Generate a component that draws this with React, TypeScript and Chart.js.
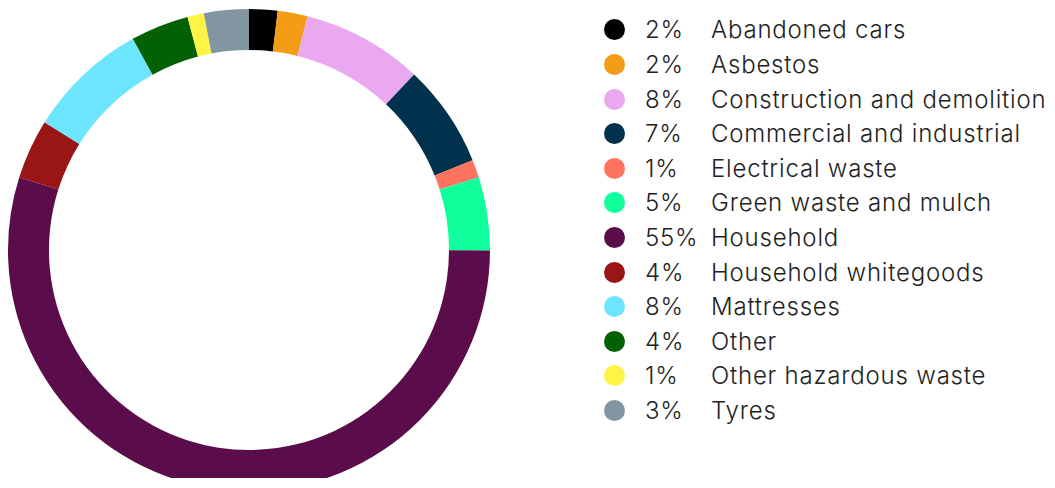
import React, { useEffect, useRef } from "react";
import { Chart, registerables } from "chart.js";

Chart.register(...registerables);

const categories = [
  "Abandoned cars",
  "Asbestos",
  "Construction and demolition",
  "Commercial and industrial",
  "Electrical waste",
  "Green waste and mulch",
  "Household",
  "Household whitegoods",
  "Mattresses",
  "Other",
  "Other hazardous waste",
  "Tyres",
];

const values = [1.9, 2.0, 8.1, 6.9, 1.2, 4.9, 54.8, 4.0, 8.1, 3.9, 1.1, 3.0];

const percentLabels = ["2%", "2%", "8%", "7%", "1%", "5%", "55%", "4%", "8%", "4%", "1%", "3%"];

const colors = [
  "#000000",
  "#f39c16",
  "#e9a8f0",
  "#00324e",
  "#ff7361",
  "#0eff9b",
  "#5b0c4a",
  "#9a1515",
  "#6ee5ff",
  "#046103",
  "#fff345",
  "#8296a2",
];

export default function App() {
  const canvasRef = useRef<HTMLCanvasElement | null>(null);

  useEffect(() => {
    document.documentElement.style.overflow = "hidden";
    document.body.style.overflow = "hidden";
    if (!canvasRef.current) return;
    const chart = new Chart(canvasRef.current, {
      type: "doughnut",
      data: {
        labels: categories,
        datasets: [
          {
            data: values,
            backgroundColor: colors,
            borderWidth: 0,
          },
        ],
      },
      options: {
        animation: false,
        responsive: true,
        maintainAspectRatio: false,
        cutout: "83%",
        plugins: {
          legend: { display: false },
          tooltip: { enabled: false },
        },
      },
    });
    return () => chart.destroy();
  }, []);

  return (
    <div style={{ position: "relative", width: 1039, height: 470 }}>
      <div style={{ position: "absolute", left: 0, top: 0, width: 482, height: 484 }}>
        <canvas ref={canvasRef} />
      </div>
      <div
        style={{
          position: "absolute",
          left: 596,
          top: 4.7,
          fontFamily: "Inter, sans-serif",
          fontWeight: 300,
          fontSize: 24,
          letterSpacing: 0.8,
          color: "#222222",
        }}
      >
        {categories.map((c, i) => (
          <div
            key={c}
            style={{ display: "flex", alignItems: "center", height: 34.6, whiteSpace: "nowrap" }}
          >
            <span
              style={{
                display: "inline-block",
                width: 21,
                height: 21,
                borderRadius: "50%",
                background: colors[i],
                marginRight: 20,
                flexShrink: 0,
              }}
            />
            <span style={{ display: "inline-block", width: 66, flexShrink: 0 }}>{percentLabels[i]}</span>
            <span>{c}</span>
          </div>
        ))}
      </div>
    </div>
  );
}
